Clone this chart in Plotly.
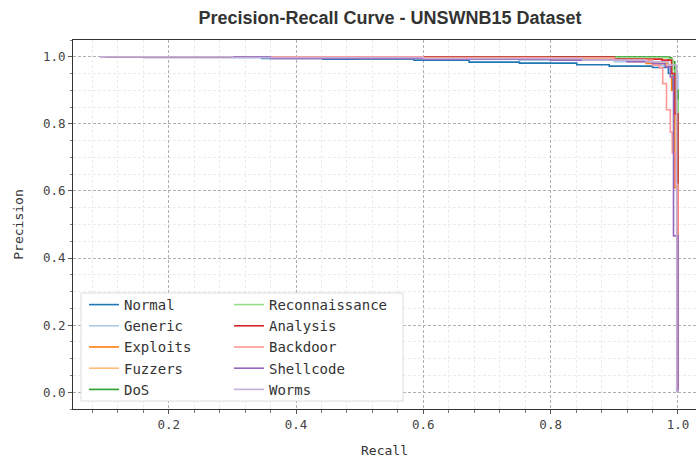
import plotly.graph_objects as go

# ---- data ----
classes = ["Normal", "Generic", "Exploits", "Fuzzers", "DoS",
           "Reconnaissance", "Analysis", "Backdoor", "Shellcode", "Worms"]
colors = ["#1f77b4", "#aec7e8", "#ff7f0e", "#ffbb78", "#2ca02c",
          "#98df8a", "#d62728", "#ff9896", "#9467bd", "#c5b0d5"]

recall_normal = [0.10, 0.346, 0.442, 0.585, 0.672, 0.751, 0.841, 0.892, 0.96, 0.985, 0.992, 0.997, 1.0]
prec_normal = [1.0, 0.995, 0.993, 0.990, 0.984, 0.981, 0.976, 0.972, 0.968, 0.95, 0.90, 0.80, 0.37]

recall_generic = [0.10, 0.16, 0.50, 0.75, 0.90, 0.97, 0.99, 1.0]
prec_generic = [1.0, 0.997, 0.995, 0.990, 0.985, 0.975, 0.95, 0.25]

recall_exploits = [0.10, 0.60, 0.85, 0.95, 0.985, 0.99, 0.995, 1.0]
prec_exploits = [1.0, 0.997, 0.990, 0.980, 0.970, 0.90, 0.61, 0.30]

recall_fuzzers = [0.10, 0.50, 0.80, 0.93, 0.98, 0.99, 0.997, 1.0]
prec_fuzzers = [1.0, 0.998, 0.993, 0.985, 0.975, 0.94, 0.63, 0.15]

recall_dos = [0.10, 0.30, 0.985, 0.99, 0.995, 1.0]
prec_dos = [1.0, 0.999, 0.997, 0.985, 0.90, 0.05]

recall_recon = [0.10, 0.80, 0.985, 0.992, 0.996, 1.0]
prec_recon = [1.0, 0.997, 0.993, 0.96, 0.87, 0.06]

recall_analysis = [0.10, 0.35, 0.90, 0.975, 0.99, 0.995, 1.0]
prec_analysis = [1.0, 0.999, 0.993, 0.990, 0.95, 0.83, 0.01]

recall_backdoor = [0.10, 0.60, 0.90, 0.96, 0.971, 0.976, 0.982, 0.988, 0.991, 0.996, 1.0]
prec_backdoor = [1.0, 0.997, 0.990, 0.975, 0.967, 0.92, 0.842, 0.775, 0.713, 0.62, 0.01]

recall_shellcode = [0.092, 0.36, 0.60, 0.80, 0.92, 0.96, 0.98, 0.988, 0.993, 1.0]
prec_shellcode = [1.0, 0.995, 0.993, 0.990, 0.985, 0.980, 0.970, 0.94, 0.466, 0.002]

recall_worms = [0.092, 0.30, 0.60, 0.85, 0.95, 0.985, 0.998]
prec_worms = [1.0, 0.998, 0.995, 0.990, 0.985, 0.975, 0.0]

recalls = [recall_normal, recall_generic, recall_exploits, recall_fuzzers, recall_dos,
           recall_recon, recall_analysis, recall_backdoor, recall_shellcode, recall_worms]
precisions = [prec_normal, prec_generic, prec_exploits, prec_fuzzers, prec_dos,
              prec_recon, prec_analysis, prec_backdoor, prec_shellcode, prec_worms]

title_text = "Precision-Recall Curve - UNSWNB15 Dataset"
x_label = "Recall"
y_label = "Precision"

MONO = "DejaVu Sans Mono"

fig = go.Figure()
for i, (name, col, r, p) in enumerate(zip(classes, colors, recalls, precisions)):
    fig.add_trace(go.Scatter(
        x=r, y=p, mode="lines", name=name,
        line=dict(color=col, width=1.6, shape="hv"),
        legend="legend" if i < 5 else "legend2",
    ))

# paper coordinates: plot area x 73..696, y 40..409
W, H = 696, 458
L, R, T, B = 73, 0, 40, 49
pw, ph = W - L - R, H - T - B

def px_x(x):
    return (x - L) / pw

def px_y(y):
    return (H - B - y) / ph

legend_font = dict(family=MONO, size=14, color="#333333")

fig.add_shape(type="rect", xref="paper", yref="paper",
              x0=px_x(81), x1=px_x(403), y0=px_y(401), y1=px_y(293),
              fillcolor="white", line=dict(color="#dcdcdc", width=1), layer="above")

fig.update_layout(
    width=W, height=H,
    margin=dict(l=L, r=R, t=T, b=B),
    paper_bgcolor="white", plot_bgcolor="white",
    title=dict(text=f"<b>{title_text}</b>", xref="container", x=390 / W, xanchor="center",
               yref="container", y=1 - 18 / H, yanchor="middle",
               font=dict(family="Liberation Sans", size=18, color="#333333")),
    legend=dict(x=px_x(84), xanchor="left", y=px_y(289), yanchor="top",
                bgcolor="rgba(0,0,0,0)", borderwidth=0, font=legend_font,
                itemwidth=30, tracegroupgap=0),
    legend2=dict(x=px_x(229), xanchor="left", y=px_y(289), yanchor="top",
                 bgcolor="rgba(0,0,0,0)", borderwidth=0, font=legend_font,
                 itemwidth=30, tracegroupgap=0),
    font=dict(family=MONO, color="#444444"),
)

axis_common = dict(
    showline=True, linecolor="#333333", linewidth=1,
    ticks="outside", ticklen=4, tickwidth=1, tickcolor="#555555",
    showgrid=True, gridcolor="#b0b0b0", gridwidth=1, griddash="3px,2px",
    zeroline=False, tickformat=".1f",
    tickfont=dict(family=MONO, size=12.5, color="#444444"),
    title_font=dict(family=MONO, size=13, color="#333333"),
)

fig.update_xaxes(
    range=[0.0497, 1.0 + (696 - 678) / 635.5], tick0=0, dtick=0.2, mirror=True,
    minor=dict(dtick=0.04, tick0=0, ticks="outside", ticklen=2.5, tickcolor="#777777",
               showgrid=True, gridcolor="#ececec", gridwidth=1),
    title=dict(text=x_label, standoff=15),
    **axis_common,
)
fig.update_yaxes(
    range=[-0.05, 1.05], tick0=0, dtick=0.2, mirror=False,
    minor=dict(dtick=0.05, tick0=0, ticks="outside", ticklen=2.5, tickcolor="#777777",
               showgrid=True, gridcolor="#ececec", gridwidth=1),
    title=dict(text=y_label, standoff=16),
    **axis_common,
)

fig.write_html("out.html")
